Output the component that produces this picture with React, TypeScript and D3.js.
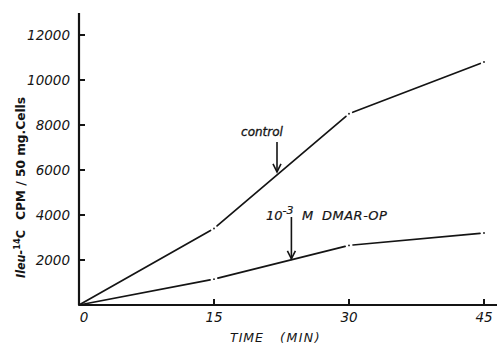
import * as d3 from "d3";

const times = [0, 15, 30, 45];
const control = [0, 3400, 8500, 10800];
const dmar = [0, 1150, 2650, 3200];
const xTicks = [0, 15, 30, 45];
const yTicks = [2000, 4000, 6000, 8000, 10000, 12000];

const W = 497;
const H = 347;
const ink = "#141414";
const font = "'DejaVu Sans', sans-serif";

const x = d3.scaleLinear().domain([0, 45]).range([79, 484]);
const y = d3.scaleLinear().domain([0, 12000]).range([305, 35]);

// value of a series at time t (for pointing the arrows at the line)
const valueAt = (vals: number[], t: number) =>
  d3.scaleLinear().domain(times).range(vals)(t);

// hand-drawn look: each segment stops a little short of the points
function segments(vals: number[]) {
  const pts = times.map((t, i) => [x(t), y(vals[i])]);
  const out: { x1: number; y1: number; x2: number; y2: number }[] = [];
  for (let i = 0; i < pts.length - 1; i++) {
    const [ax, ay] = pts[i];
    const [bx, by] = pts[i + 1];
    const len = Math.hypot(bx - ax, by - ay);
    const ux = (bx - ax) / len;
    const uy = (by - ay) / len;
    const g1 = i === 0 ? 0 : 4;
    const g2 = 4;
    out.push({ x1: ax + ux * g1, y1: ay + uy * g1, x2: bx - ux * g2, y2: by - uy * g2 });
  }
  return { out, pts };
}

function Series({ vals }: { vals: number[] }) {
  const { out, pts } = segments(vals);
  return (
    <g>
      {out.map((s, i) => (
        <line key={i} {...s} stroke={ink} strokeWidth={1.7} strokeLinecap="round" />
      ))}
      {pts.slice(1).map(([px, py], i) => (
        <circle key={i} cx={px} cy={py} r={0.9} fill={ink} />
      ))}
    </g>
  );
}

function Arrow({ ax, y1, y2 }: { ax: number; y1: number; y2: number }) {
  return (
    <g stroke={ink} strokeWidth={1.6} fill="none">
      <line x1={ax} y1={y1} x2={ax} y2={y2} />
      <path d={`M${ax - 4},${y2 - 8} L${ax},${y2} L${ax + 4},${y2 - 8}`} />
    </g>
  );
}

export default function App() {
  const ctlT = 22;
  const dmT = 23.6;
  const ctlX = x(ctlT);
  const ctlY = y(valueAt(control, ctlT)) - 3;
  const dmX = x(dmT);
  const dmY = y(valueAt(dmar, dmT)) - 1;

  return (
    <>
      <style>{`body{margin:0}`}</style>
      <svg width={W} height={H} style={{ display: "block", background: "#fff" }}>
        {/* axes */}
        <line x1={x(0)} y1={y(0)} x2={x(0)} y2={13} stroke={ink} strokeWidth={2.2} />
        <line x1={x(0)} y1={y(0)} x2={W} y2={y(0)} stroke={ink} strokeWidth={2.2} />
        {yTicks.map((t) => (
          <g key={t}>
            <line x1={x(0)} x2={x(0) + 6} y1={y(t)} y2={y(t)} stroke={ink} strokeWidth={2} />
            <text
              x={70}
              y={y(t)}
              dy="0.36em"
              textAnchor="end"
              fontFamily={font}
              fontStyle="italic"
              fontSize={13.5}
              fill={ink}
            >
              {t}
            </text>
          </g>
        ))}
        {xTicks.map((t) => (
          <g key={t}>
            {t > 0 && (
              <line x1={x(t)} x2={x(t)} y1={y(0)} y2={y(0) - 6} stroke={ink} strokeWidth={2} />
            )}
            <text
              x={x(t) + (t === 0 ? 5 : 0)}
              y={322}
              textAnchor="middle"
              fontFamily={font}
              fontStyle="italic"
              fontSize={13.5}
              fill={ink}
            >
              {t}
            </text>
          </g>
        ))}

        {/* axis titles */}
        <text x={230} y={342} fontFamily={font} fontStyle="italic" fontSize={12.5} fill={ink} letterSpacing={1}>
          TIME
        </text>
        <text x={280} y={342} fontFamily={font} fontStyle="italic" fontSize={12.5} fill={ink} letterSpacing={1.5}>
          (MIN)
        </text>

        <g transform="translate(25,278) rotate(-90)" fontFamily={font} fill={ink} fontWeight="bold" fontSize={12}>
          <text x={0} y={0} textLength={48} lengthAdjust="spacingAndGlyphs">
            <tspan fontStyle="italic">Ileu-</tspan>
            <tspan fontSize={9} dy={-5}>14</tspan>
            <tspan dy={5}>C</tspan>
          </text>
          <text x={58} y={0} textLength={123} lengthAdjust="spacingAndGlyphs">
            CPM / 50 mg.Cells
          </text>
        </g>

        {/* data */}
        <Series vals={control} />
        <Series vals={dmar} />

        {/* annotations */}
        <text x={262} y={136} textAnchor="middle" fontFamily={font} fontStyle="italic" fontSize={12} fill={ink} stroke={ink} strokeWidth={0.3}>
          control
        </text>
        <Arrow ax={ctlX} y1={142} y2={ctlY} />

        <text x={266} y={220} fontFamily={font} fontStyle="italic" fontSize={13} fill={ink} stroke={ink} strokeWidth={0.2}>
          10
          <tspan fontSize={11} dy={-6}>-3</tspan>
          <tspan x={302} dy={6} letterSpacing={0.5}>M</tspan>
          <tspan x={322} letterSpacing={0.5}>DMAR-OP</tspan>
        </text>
        <Arrow ax={dmX} y1={217} y2={dmY} />
      </svg>
    </>
  );
}
